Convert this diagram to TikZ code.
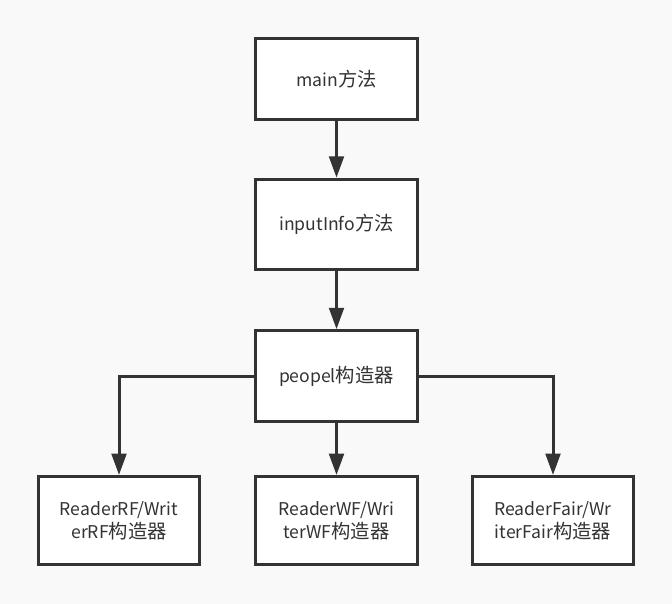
\documentclass[tikz,border=0pt]{standalone}
\usepackage{fontspec}
\setmainfont{Noto Sans CJK SC}
\usetikzlibrary{arrows.meta}
\definecolor{bg}{HTML}{F9F9F9}
\definecolor{ln}{HTML}{333333}
\newcommand{\zh}[1]{{\fontsize{14.5pt}{17.5pt}\selectfont #1}}
\begin{document}
\begin{tikzpicture}[x=0.75pt,y=-0.75pt,
  box/.style={draw=ln,fill=white,line width=2.25pt,minimum width=121pt,minimum height=66pt,
    align=center,font=\fontsize{13.2pt}{17.5pt}\selectfont,text=ln,inner sep=2pt},
  arr/.style={draw=ln,line width=2.25pt,-{Triangle[width=11pt,length=16pt]}}]
\fill[bg] (0,0) rectangle (672,604);
\useasboundingbox (0,0) rectangle (672,604);
\node[box,minimum height=61pt] (m) at (336.5,79) {main\zh{方法}};
\node[box,minimum height=68pt] (i) at (336.5,224.5) {inputInfo\zh{方法}};
\node[box,minimum height=68pt] (p) at (336.5,376) {peopel\zh{构造器}};
\node[box] (a) at (119,520.5) {ReaderRF/Writ\\erRF\zh{构造器}};
\node[box] (b) at (336.5,520.5) {ReaderWF/Wri\\terWF\zh{构造器}};
\node[box] (c) at (553,520.5) {ReaderFair/Wr\\iterFair\zh{构造器}};
\draw[arr] (m) -- (i);
\draw[arr] (i) -- (p);
\draw[arr] (p.west) -| (a.north);
\draw[arr] (p) -- (b);
\draw[arr] (p.east) -| (c.north);
\end{tikzpicture}
\end{document}
